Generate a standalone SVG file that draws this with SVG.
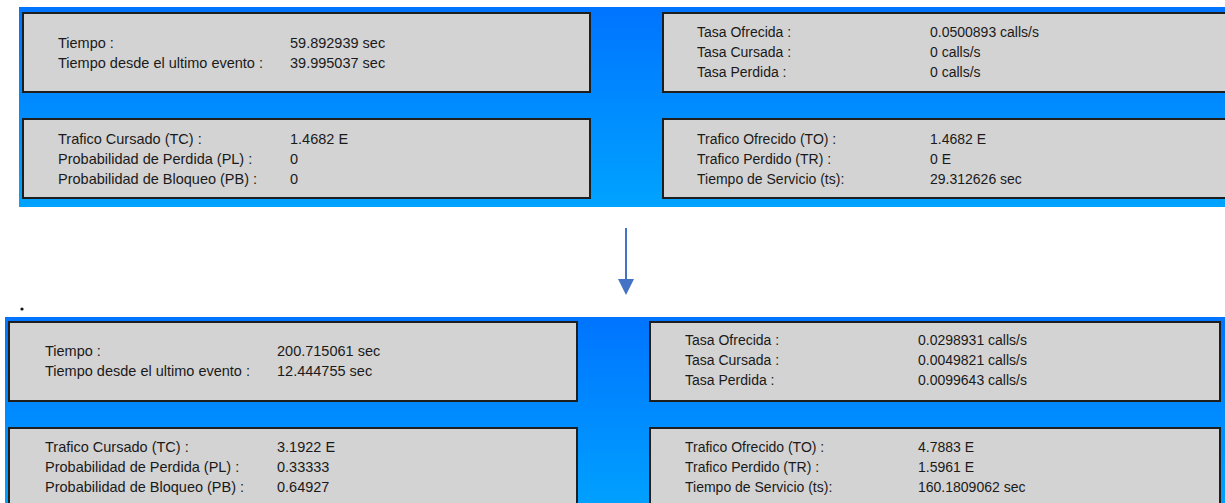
<svg xmlns="http://www.w3.org/2000/svg" width="1225" height="503" viewBox="0 0 1225 503">
<defs>
<linearGradient id="bgTop" x1="0" y1="0" x2="0" y2="1">
<stop offset="0" stop-color="#0074FF"/>
<stop offset="1" stop-color="#00A3FF"/>
</linearGradient>
<linearGradient id="bgBot" x1="0" y1="0" x2="0" y2="1">
<stop offset="0" stop-color="#0074FF"/>
<stop offset="1" stop-color="#00A0FF"/>
</linearGradient>
<marker id="ah" markerWidth="16" markerHeight="16" viewBox="0 0 16 16" refX="1" refY="8" orient="auto" markerUnits="userSpaceOnUse">
<path d="M0,0 L16,8 L0,16 Z" fill="#4472C4"/>
</marker>
</defs>
<style>
.box{fill:#D3D3D3;stroke:#1E1E1E;stroke-width:2}
text{font-family:"Liberation Sans",Arial,sans-serif;fill:#1A1A1A}
.l text{font-size:14.5px}
.r text{font-size:14px}
.conn{stroke:#4472C4;stroke-width:2;fill:none}
</style>
<rect x="19" y="7" width="1206" height="200" fill="url(#bgTop)"/>
<rect x="5" y="317" width="1220" height="186" fill="url(#bgBot)"/>

<g id="top-tiempo" class="l">
<rect class="box" x="23" y="13" width="567" height="79"/>
<text x="58" y="48">Tiempo :</text>
<text x="58" y="68">Tiempo desde el ultimo evento :</text>
<text x="290" y="48">59.892939 sec</text>
<text x="290" y="68">39.995037 sec</text>
</g>
<g id="top-trafico-cursado" class="l">
<rect class="box" x="23" y="119" width="567" height="79"/>
<text x="58" y="144">Trafico Cursado (TC) :</text>
<text x="58" y="164">Probabilidad de Perdida (PL) :</text>
<text x="58" y="184">Probabilidad de Bloqueo (PB) :</text>
<text x="290" y="144">1.4682 E</text>
<text x="290" y="164">0</text>
<text x="290" y="184">0</text>
</g>
<g id="top-tasas" class="r">
<rect class="box" x="663" y="13" width="570" height="79"/>
<text x="697" y="37">Tasa Ofrecida :</text>
<text x="697" y="57">Tasa Cursada :</text>
<text x="697" y="77">Tasa Perdida :</text>
<text x="930" y="37">0.0500893 calls/s</text>
<text x="930" y="57">0 calls/s</text>
<text x="930" y="77">0 calls/s</text>
</g>
<g id="top-trafico-ofrecido" class="r">
<rect class="box" x="663" y="119" width="570" height="79"/>
<text x="697" y="144">Trafico Ofrecido (TO) :</text>
<text x="697" y="164">Trafico Perdido (TR) :</text>
<text x="697" y="184">Tiempo de Servicio (ts):</text>
<text x="930" y="144">1.4682 E</text>
<text x="930" y="164">0 E</text>
<text x="930" y="184">29.312626 sec</text>
</g>

<circle cx="22" cy="309" r="1.6" fill="#111"/>

<g id="bot-tiempo" class="l">
<rect class="box" x="9" y="322" width="568" height="79"/>
<text x="45" y="356">Tiempo :</text>
<text x="45" y="376">Tiempo desde el ultimo evento :</text>
<text x="277" y="356">200.715061 sec</text>
<text x="277" y="376">12.444755 sec</text>
</g>
<g id="bot-trafico-cursado" class="l">
<rect class="box" x="9" y="428" width="568" height="90"/>
<text x="45" y="452">Trafico Cursado (TC) :</text>
<text x="45" y="472">Probabilidad de Perdida (PL) :</text>
<text x="45" y="492">Probabilidad de Bloqueo (PB) :</text>
<text x="277" y="452">3.1922 E</text>
<text x="277" y="472">0.33333</text>
<text x="277" y="492">0.64927</text>
</g>
<g id="bot-tasas" class="r">
<rect class="box" x="650" y="322" width="570" height="79"/>
<text x="685" y="345">Tasa Ofrecida :</text>
<text x="685" y="365">Tasa Cursada :</text>
<text x="685" y="385">Tasa Perdida :</text>
<text x="918" y="345">0.0298931 calls/s</text>
<text x="918" y="365">0.0049821 calls/s</text>
<text x="918" y="385">0.0099643 calls/s</text>
</g>
<g id="bot-trafico-ofrecido" class="r">
<rect class="box" x="650" y="428" width="570" height="90"/>
<text x="685" y="452">Trafico Ofrecido (TO) :</text>
<text x="685" y="472">Trafico Perdido (TR) :</text>
<text x="685" y="492">Tiempo de Servicio (ts):</text>
<text x="918" y="452">4.7883 E</text>
<text x="918" y="472">1.5961 E</text>
<text x="918" y="492">160.1809062 sec</text>
</g>

<g id="connectors">
<line class="conn" x1="626" y1="228" x2="626" y2="280" marker-end="url(#ah)"/>
</g>
</svg>
